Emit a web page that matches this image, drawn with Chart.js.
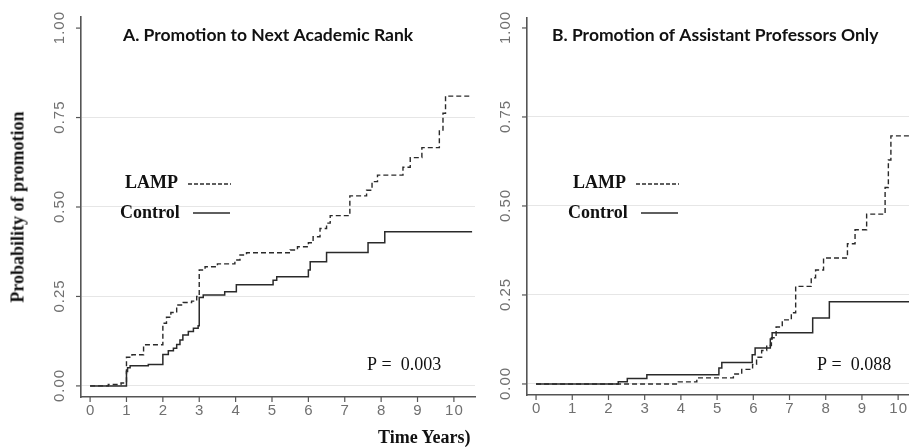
<!DOCTYPE html>
<html>
<head>
<meta charset="utf-8">
<script src="https://cdn.jsdelivr.net/npm/chart.js@4.4.1/dist/chart.umd.min.js"></script>
<style>
  body { margin: 0; background: #fff; width: 909px; height: 448px; overflow: hidden; position: relative; }
  canvas { position: absolute; top: 0; }
  .axis-title { position: absolute; font: bold 18px "Liberation Serif", "Times New Roman", serif; color: #111; white-space: nowrap; }
  #titleX { left: 378px; top: 427px; }
  #titleY { left: 18px; top: 207px; transform: translate(-50%, -50%) rotate(-90deg); }
</style>
</head>
<body>
<canvas id="panelA" width="490" height="448" style="left:0"></canvas>
<canvas id="panelB" width="419" height="448" style="left:490px"></canvas>
<div class="axis-title" id="titleX">Time Years)</div>
<div class="axis-title" id="titleY">Probability of promotion</div>
<script>
// tick values
const xTicks = [0, 1, 2, 3, 4, 5, 6, 7, 8, 9, 10];
const yTicks = [0, 0.25, 0.5, 0.75, 1];
const yTickLabels = ['0.00', '0.25', '0.50', '0.75', '1.00'];

// A. all faculty - step times (years) and cumulative probability of promotion
const lampTimesA = [0, 0.5, 0.85, 1.0, 1.15, 1.47, 2.0, 2.1, 2.22, 2.38, 2.56, 2.79, 2.93, 3.0, 3.16, 3.5, 3.98, 4.12, 4.3, 5.5,
  5.7, 6.0, 6.13, 6.32, 6.5, 6.6, 7.14, 7.6, 7.75, 7.9, 8.6, 8.8, 9.12, 9.6, 9.7, 9.77, 10.5];
const lampProbA = [0, 0.004, 0.008, 0.08, 0.087, 0.115, 0.175, 0.192, 0.205, 0.226, 0.233, 0.237, 0.25, 0.324, 0.333, 0.341, 0.352, 0.366, 0.372, 0.38,
  0.389, 0.40, 0.417, 0.44, 0.455, 0.476, 0.531, 0.547, 0.571, 0.589, 0.611, 0.638, 0.666, 0.715, 0.762, 0.81, 0.81];
const controlTimesA = [0, 1.0, 1.03, 1.1, 1.6, 2.0, 2.15, 2.29, 2.38, 2.47, 2.55, 2.7, 2.84, 2.97, 3.0, 3.11, 3.7, 4.02,
  5.03, 5.13, 6.0, 6.05, 6.5, 7.64, 8.1, 10.5];
const controlProbA = [0, 0.04, 0.051, 0.056, 0.06, 0.088, 0.098, 0.105, 0.116, 0.128, 0.142, 0.152, 0.161, 0.168, 0.247, 0.254, 0.263, 0.283,
  0.295, 0.305, 0.324, 0.347, 0.373, 0.40, 0.431, 0.431];

// B. assistant professors only
const lampTimesB = [0, 3.93, 4.44, 5.45, 5.68, 5.98, 6.09, 6.23, 6.37, 6.5, 6.63, 6.8, 7.05, 7.17, 7.6, 7.72, 7.94, 8.6,
  8.81, 9.13, 9.64, 9.73, 9.8, 10.3];
const lampProbB = [0, 0.006, 0.017, 0.028, 0.041, 0.055, 0.075, 0.094, 0.108, 0.13, 0.16, 0.18, 0.2, 0.274, 0.298, 0.32, 0.354, 0.394,
  0.433, 0.477, 0.552, 0.629, 0.697, 0.697];
const controlTimesB = [0, 2.27, 2.52, 3.06, 5.05, 5.13, 5.97, 6.05, 6.47, 6.52, 7.64, 8.1, 10.3];
const controlProbB = [0, 0.006, 0.015, 0.026, 0.045, 0.06, 0.082, 0.101, 0.126, 0.144, 0.185, 0.231, 0.231];

const lineColor = '#2a2a2a';

function pts(t, p) {
  return t.map((x, i) => ({ x: x, y: p[i] }));
}

// stata style ticks, rotated y labels and in-plot texts
const panelPlugin = {
  id: 'panelText',
  afterDraw(chart, args, o) {
    const ctx = chart.ctx, xs = chart.scales.x, ys = chart.scales.y, a = chart.chartArea;
    ctx.save();
    ctx.strokeStyle = '#555';
    ctx.lineWidth = 1.2;
    ctx.fillStyle = '#707070';
    ctx.font = '15px "Liberation Sans", Arial, sans-serif';
    ctx.letterSpacing = '1px';
    ctx.textAlign = 'center';
    ctx.textBaseline = 'middle';
    xTicks.forEach(v => {
      const px = xs.getPixelForValue(v);
      ctx.beginPath(); ctx.moveTo(px, a.bottom); ctx.lineTo(px, a.bottom + 5); ctx.stroke();
      ctx.fillText(String(v), px + 0.5, a.bottom + 14);
    });
    yTicks.forEach((v, i) => {
      const py = ys.getPixelForValue(v);
      ctx.beginPath(); ctx.moveTo(a.left - 5, py); ctx.lineTo(a.left, py); ctx.stroke();
      ctx.save();
      ctx.translate(a.left - 21, py);
      ctx.rotate(-Math.PI / 2);
      ctx.fillText(yTickLabels[i], 0.5, 0);
      ctx.restore();
    });
    ctx.letterSpacing = '0px';

    // panel title
    ctx.fillStyle = '#111';
    ctx.textAlign = 'left';
    ctx.font = 'bold 17.5px Lato, "Open Sans", sans-serif';
    ctx.fillText(o.title, o.titleX, 35);

    // legend
    ctx.font = 'bold 18px "Liberation Serif", "Times New Roman", serif';
    ctx.fillText('LAMP', o.legX + 5, 183);
    ctx.fillText('Control', o.legX, 213);
    ctx.strokeStyle = lineColor;
    ctx.lineWidth = 1.3;
    ctx.setLineDash([4, 2]);
    ctx.beginPath(); ctx.moveTo(o.legX + 68, 184); ctx.lineTo(o.legX + 111, 184); ctx.stroke();
    ctx.setLineDash([]);
    ctx.lineWidth = 1.6;
    ctx.beginPath(); ctx.moveTo(o.legX + 73, 213); ctx.lineTo(o.legX + 110, 213); ctx.stroke();

    // p value
    ctx.font = '18px "Liberation Serif", "Times New Roman", serif';
    ctx.fillText(o.pText, o.pX, 365);
    ctx.restore();
  }
};

function makePanel(id, lampT, lampP, ctrlT, ctrlP, xMax, yMax, pad, text) {
  return new Chart(document.getElementById(id), {
    type: 'line',
    data: {
      datasets: [
        {
          label: 'LAMP',
          data: pts(lampT, lampP),
          borderColor: lineColor,
          borderWidth: 1.4,
          borderDash: [5, 3],
          stepped: true,
          pointRadius: 0,
          fill: false
        },
        {
          label: 'Control',
          data: pts(ctrlT, ctrlP),
          borderColor: lineColor,
          borderWidth: 1.5,
          stepped: true,
          pointRadius: 0,
          fill: false
        }
      ]
    },
    options: {
      responsive: false,
      animation: false,
      layout: { padding: pad },
      plugins: {
        legend: { display: false },
        tooltip: { enabled: false },
        panelText: text
      },
      scales: {
        x: {
          type: 'linear',
          min: -0.25,
          max: xMax,
          afterBuildTicks: s => { s.ticks = xTicks.map(v => ({ value: v })); },
          ticks: { display: false },
          grid: { display: false, drawTicks: false },
          border: { display: true, color: '#555', width: 1.6 }
        },
        y: {
          type: 'linear',
          min: -0.031,
          max: yMax,
          afterBuildTicks: s => { s.ticks = yTicks.map(v => ({ value: v })); },
          ticks: { display: false },
          grid: {
            drawTicks: false,
            color: c => (c.tick && c.tick.value === 1 ? 'rgba(0,0,0,0)' : '#e6e6e6'),
            lineWidth: 1
          },
          border: { display: true, color: '#555', width: 1.6 }
        }
      }
    },
    plugins: [panelPlugin]
  });
}

makePanel('panelA', lampTimesA, lampProbA, controlTimesA, controlProbA, 10.58, 1.031,
  { left: 81, right: 15, top: 17, bottom: 51 },
  { title: 'A. Promotion to Next Academic Rank', titleX: 123, legX: 120, pText: 'P =  0.003', pX: 367 });

makePanel('panelB', lampTimesB, lampProbB, controlTimesB, controlProbB, 10.3, 1.028,
  { left: 37, right: 0, top: 18, bottom: 53 },
  { title: 'B. Promotion of Assistant Professors Only', titleX: 62, legX: 78, pText: 'P =  0.088', pX: 327 });
</script>
</body>
</html>
